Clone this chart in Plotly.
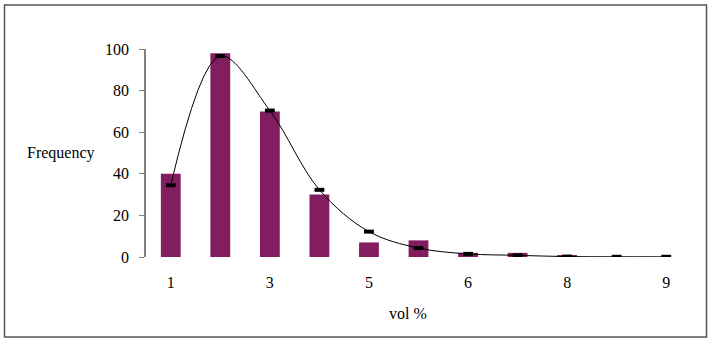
import plotly.graph_objects as go

# ---- data ----
bins = [1, 2, 3, 4, 5, 6, 7, 8, 9, 10, 11]
observed = [40, 98, 70, 30, 7, 8, 2, 2, 0.5, 0, 0]
fitted = [34.5, 96.6, 70.4, 32.3, 12.2, 4.3, 1.5, 0.8, 0.2, 0.1, 0.1]
label_positions = [1, 3, 5, 7, 9, 11]
tick_labels = ["1", "3", "5", "6", "8", "9"]
boundaries = [b - 0.5 for b in bins] + [bins[-1] + 0.5]
y_ticks = [0, 20, 40, 60, 80, 100]

FONT = "Liberation Serif"
AX = "#808080"
W, H = 712, 344
ML, MR, MT, MB = 146, 21, 49, 87

fig = go.Figure()
fig.add_trace(go.Bar(x=bins, y=observed, marker=dict(color="#821E60", line=dict(width=0)),
                     showlegend=False, hoverinfo="skip"))
fig.add_trace(go.Scatter(x=bins, y=fitted, mode="lines+markers",
                         line=dict(color="black", width=1, shape="spline", smoothing=1),
                         marker=dict(symbol="line-ew", size=7, line=dict(width=4, color="black")),
                         showlegend=False, hoverinfo="skip"))

rng_x = [0.5, 11.5]
rng_y = [0, 100]
fig.update_layout(
    width=W, height=H, margin=dict(l=ML, r=MR, t=MT, b=MB),
    paper_bgcolor="white", plot_bgcolor="white", bargap=0.6,
    font=dict(family=FONT, size=16, color="black"),
    xaxis=dict(range=rng_x, tickmode="array", tickvals=label_positions, ticktext=tick_labels,
               ticks="", showgrid=False, zeroline=False, showline=False,
               ticklabelstandoff=14, tickfont=dict(family=FONT, size=16)),
    xaxis2=dict(range=rng_x, overlaying="x", anchor="y", side="bottom", tickmode="array",
                tickvals=boundaries, showticklabels=False, ticks="outside", ticklen=5,
                tickwidth=1.3, tickcolor=AX, showline=True, linecolor=AX, linewidth=1.5,
                showgrid=False, zeroline=False),
    xaxis3=dict(range=rng_x, overlaying="x", anchor="y", side="bottom", tickmode="array",
                tickvals=boundaries, showticklabels=False, ticks="inside", ticklen=4,
                tickwidth=1.3, tickcolor=AX, showline=False, showgrid=False, zeroline=False),
    yaxis=dict(range=rng_y, tickmode="array", tickvals=y_ticks, ticks="outside", ticklen=5,
               tickwidth=1.3, tickcolor=AX, showline=True, linecolor=AX, linewidth=1.5,
               showgrid=False, zeroline=False, ticklabelstandoff=7,
               tickfont=dict(family=FONT, size=16)),
    yaxis2=dict(range=rng_y, overlaying="y", anchor="x", side="left", tickmode="array",
                tickvals=y_ticks, ticks="inside", ticklen=2, tickwidth=1.3, tickcolor=AX,
                showticklabels=False, showline=False, showgrid=False, zeroline=False),
)

pw = W - ML - MR
ph = H - MT - MB
def px(x):
    return (x - ML) / pw
def py(y):
    return (H - MB - y) / ph

fig.add_annotation(text="Frequency", x=px(61), y=py(153), xref="paper", yref="paper",
                   xanchor="center", yanchor="middle",
                   showarrow=False, font=dict(family=FONT, size=16))
fig.add_annotation(text="vol %", x=px(408), y=py(313), xref="paper", yref="paper",
                   xanchor="center", yanchor="middle",
                   showarrow=False, font=dict(family=FONT, size=16))
fig.add_shape(type="rect", xref="paper", yref="paper", x0=px(4.5), x1=px(706.5),
              y0=py(5), y1=py(337), line=dict(color="#555555", width=1.5), fillcolor="rgba(0,0,0,0)")

fig.write_html("out.html")
